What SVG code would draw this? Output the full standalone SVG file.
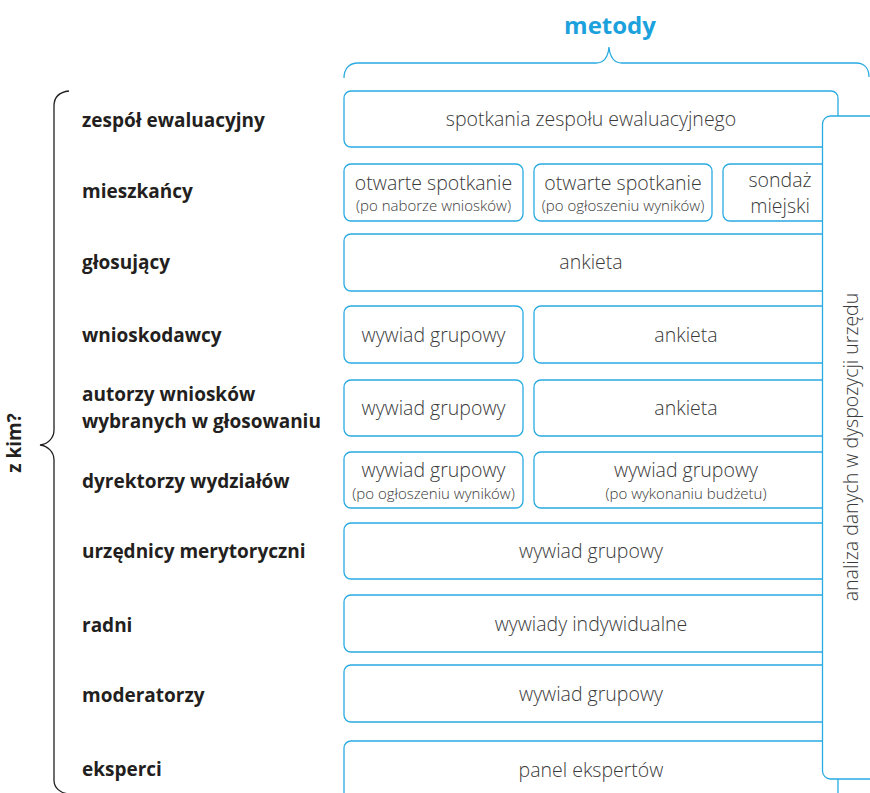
<svg xmlns="http://www.w3.org/2000/svg" width="870" height="793" viewBox="0 0 870 793">
<style>
.bx{fill:#fff;stroke:#29abe2;stroke-width:1.3}
.lbl{font-family:"Open Sans","Noto Sans",sans-serif;font-weight:700;font-size:19px;fill:#231f20}
.t{font-family:"Open Sans","Noto Sans",sans-serif;font-weight:300;font-size:19.5px;fill:#3a3a3a;text-anchor:middle}
.s{font-family:"Open Sans","Noto Sans",sans-serif;font-weight:300;font-size:15px;fill:#3a3a3a;text-anchor:middle}
.br{fill:none;stroke-width:1.3}
</style>
<rect width="870" height="793" fill="#fff"/>
<g id="header">
<text x="610" y="34" style="font-family:'Open Sans','Noto Sans',sans-serif;font-weight:700;font-size:24px;fill:#1ba1dc" text-anchor="middle">metody</text>
</g>
<g id="braces">
<path class="br" stroke="#29abe2" d="M344,78 C344,69 349,63 358,63 L596,63 C603,63 608,58 609,47 C610,58 615,63 622,63 L856,63 C864,63 869,68 869,77"/>
<path class="br" stroke="#231f20" d="M69,91 C60,92 54,97 54,106 L54,430 C54,438 48,444 40,445 C48,446 54,452 54,460 L54,780 C54,788 60,793 69,794"/>
<text class="lbl" transform="translate(21,443) rotate(-90)" text-anchor="middle">z kim?</text>
</g>
<g id="labels">
<text class="lbl" x="82" y="127">zespół ewaluacyjny</text>
<text class="lbl" x="82" y="198">mieszkańcy</text>
<text class="lbl" x="82" y="269">głosujący</text>
<text class="lbl" x="82" y="342">wnioskodawcy</text>
<text class="lbl" x="82" y="401">autorzy wniosków</text>
<text class="lbl" x="82" y="428">wybranych w głosowaniu</text>
<text class="lbl" x="82" y="488">dyrektorzy wydziałów</text>
<text class="lbl" x="82" y="558">urzędnicy merytoryczni</text>
<text class="lbl" x="82" y="632">radni</text>
<text class="lbl" x="82" y="702">moderatorzy</text>
<text class="lbl" x="82" y="776">eksperci</text>
</g>
<g id="row1"><rect class="bx" x="344" y="91" width="494" height="56" rx="7"/><text class="t" x="591" y="126">spotkania zespołu ewaluacyjnego</text></g>
<g id="row2a"><rect class="bx" x="344" y="164" width="179" height="57" rx="7"/><text class="t" x="433.5" y="190">otwarte spotkanie</text><text class="s" x="433.5" y="211">(po naborze wniosków)</text></g>
<g id="row2b"><rect class="bx" x="534" y="164" width="178" height="57" rx="7"/><text class="t" x="623" y="190">otwarte spotkanie</text><text class="s" x="623" y="211">(po ogłoszeniu wyników)</text></g>
<g id="row2c"><rect class="bx" x="723" y="164" width="115" height="57" rx="7"/><text class="t" x="780" y="187">sondaż</text><text class="t" x="780" y="213">miejski</text></g>
<g id="row3"><rect class="bx" x="344" y="234" width="494" height="57" rx="7"/><text class="t" x="591" y="269">ankieta</text></g>
<g id="row4a"><rect class="bx" x="344" y="306" width="179" height="57" rx="7"/><text class="t" x="433.5" y="342">wywiad grupowy</text></g>
<g id="row4b"><rect class="bx" x="534" y="306" width="304" height="57" rx="7"/><text class="t" x="686" y="342">ankieta</text></g>
<g id="row5a"><rect class="bx" x="344" y="380" width="179" height="56" rx="7"/><text class="t" x="433.5" y="415">wywiad grupowy</text></g>
<g id="row5b"><rect class="bx" x="534" y="380" width="304" height="56" rx="7"/><text class="t" x="686" y="415">ankieta</text></g>
<g id="row6a"><rect class="bx" x="344" y="452" width="179" height="56" rx="7"/><text class="t" x="433.5" y="477">wywiad grupowy</text><text class="s" x="433.5" y="499">(po ogłoszeniu wyników)</text></g>
<g id="row6b"><rect class="bx" x="534" y="452" width="304" height="56" rx="7"/><text class="t" x="686" y="477">wywiad grupowy</text><text class="s" x="686" y="499">(po wykonaniu budżetu)</text></g>
<g id="row7"><rect class="bx" x="344" y="523" width="494" height="56" rx="7"/><text class="t" x="591" y="558">wywiad grupowy</text></g>
<g id="row8"><rect class="bx" x="344" y="595" width="494" height="57" rx="7"/><text class="t" x="591" y="631">wywiady indywidualne</text></g>
<g id="row9"><rect class="bx" x="344" y="665" width="494" height="57" rx="7"/><text class="t" x="591" y="701">wywiad grupowy</text></g>
<g id="row10"><rect class="bx" x="344" y="741" width="494" height="70" rx="7"/><text class="t" x="591" y="777">panel ekspertów</text></g>
<g id="analiza"><rect class="bx" x="822.5" y="116" width="70" height="663" rx="8"/><text class="t" transform="translate(858,447) rotate(-90)">analiza danych w dyspozycji urzędu</text></g>
</svg>
